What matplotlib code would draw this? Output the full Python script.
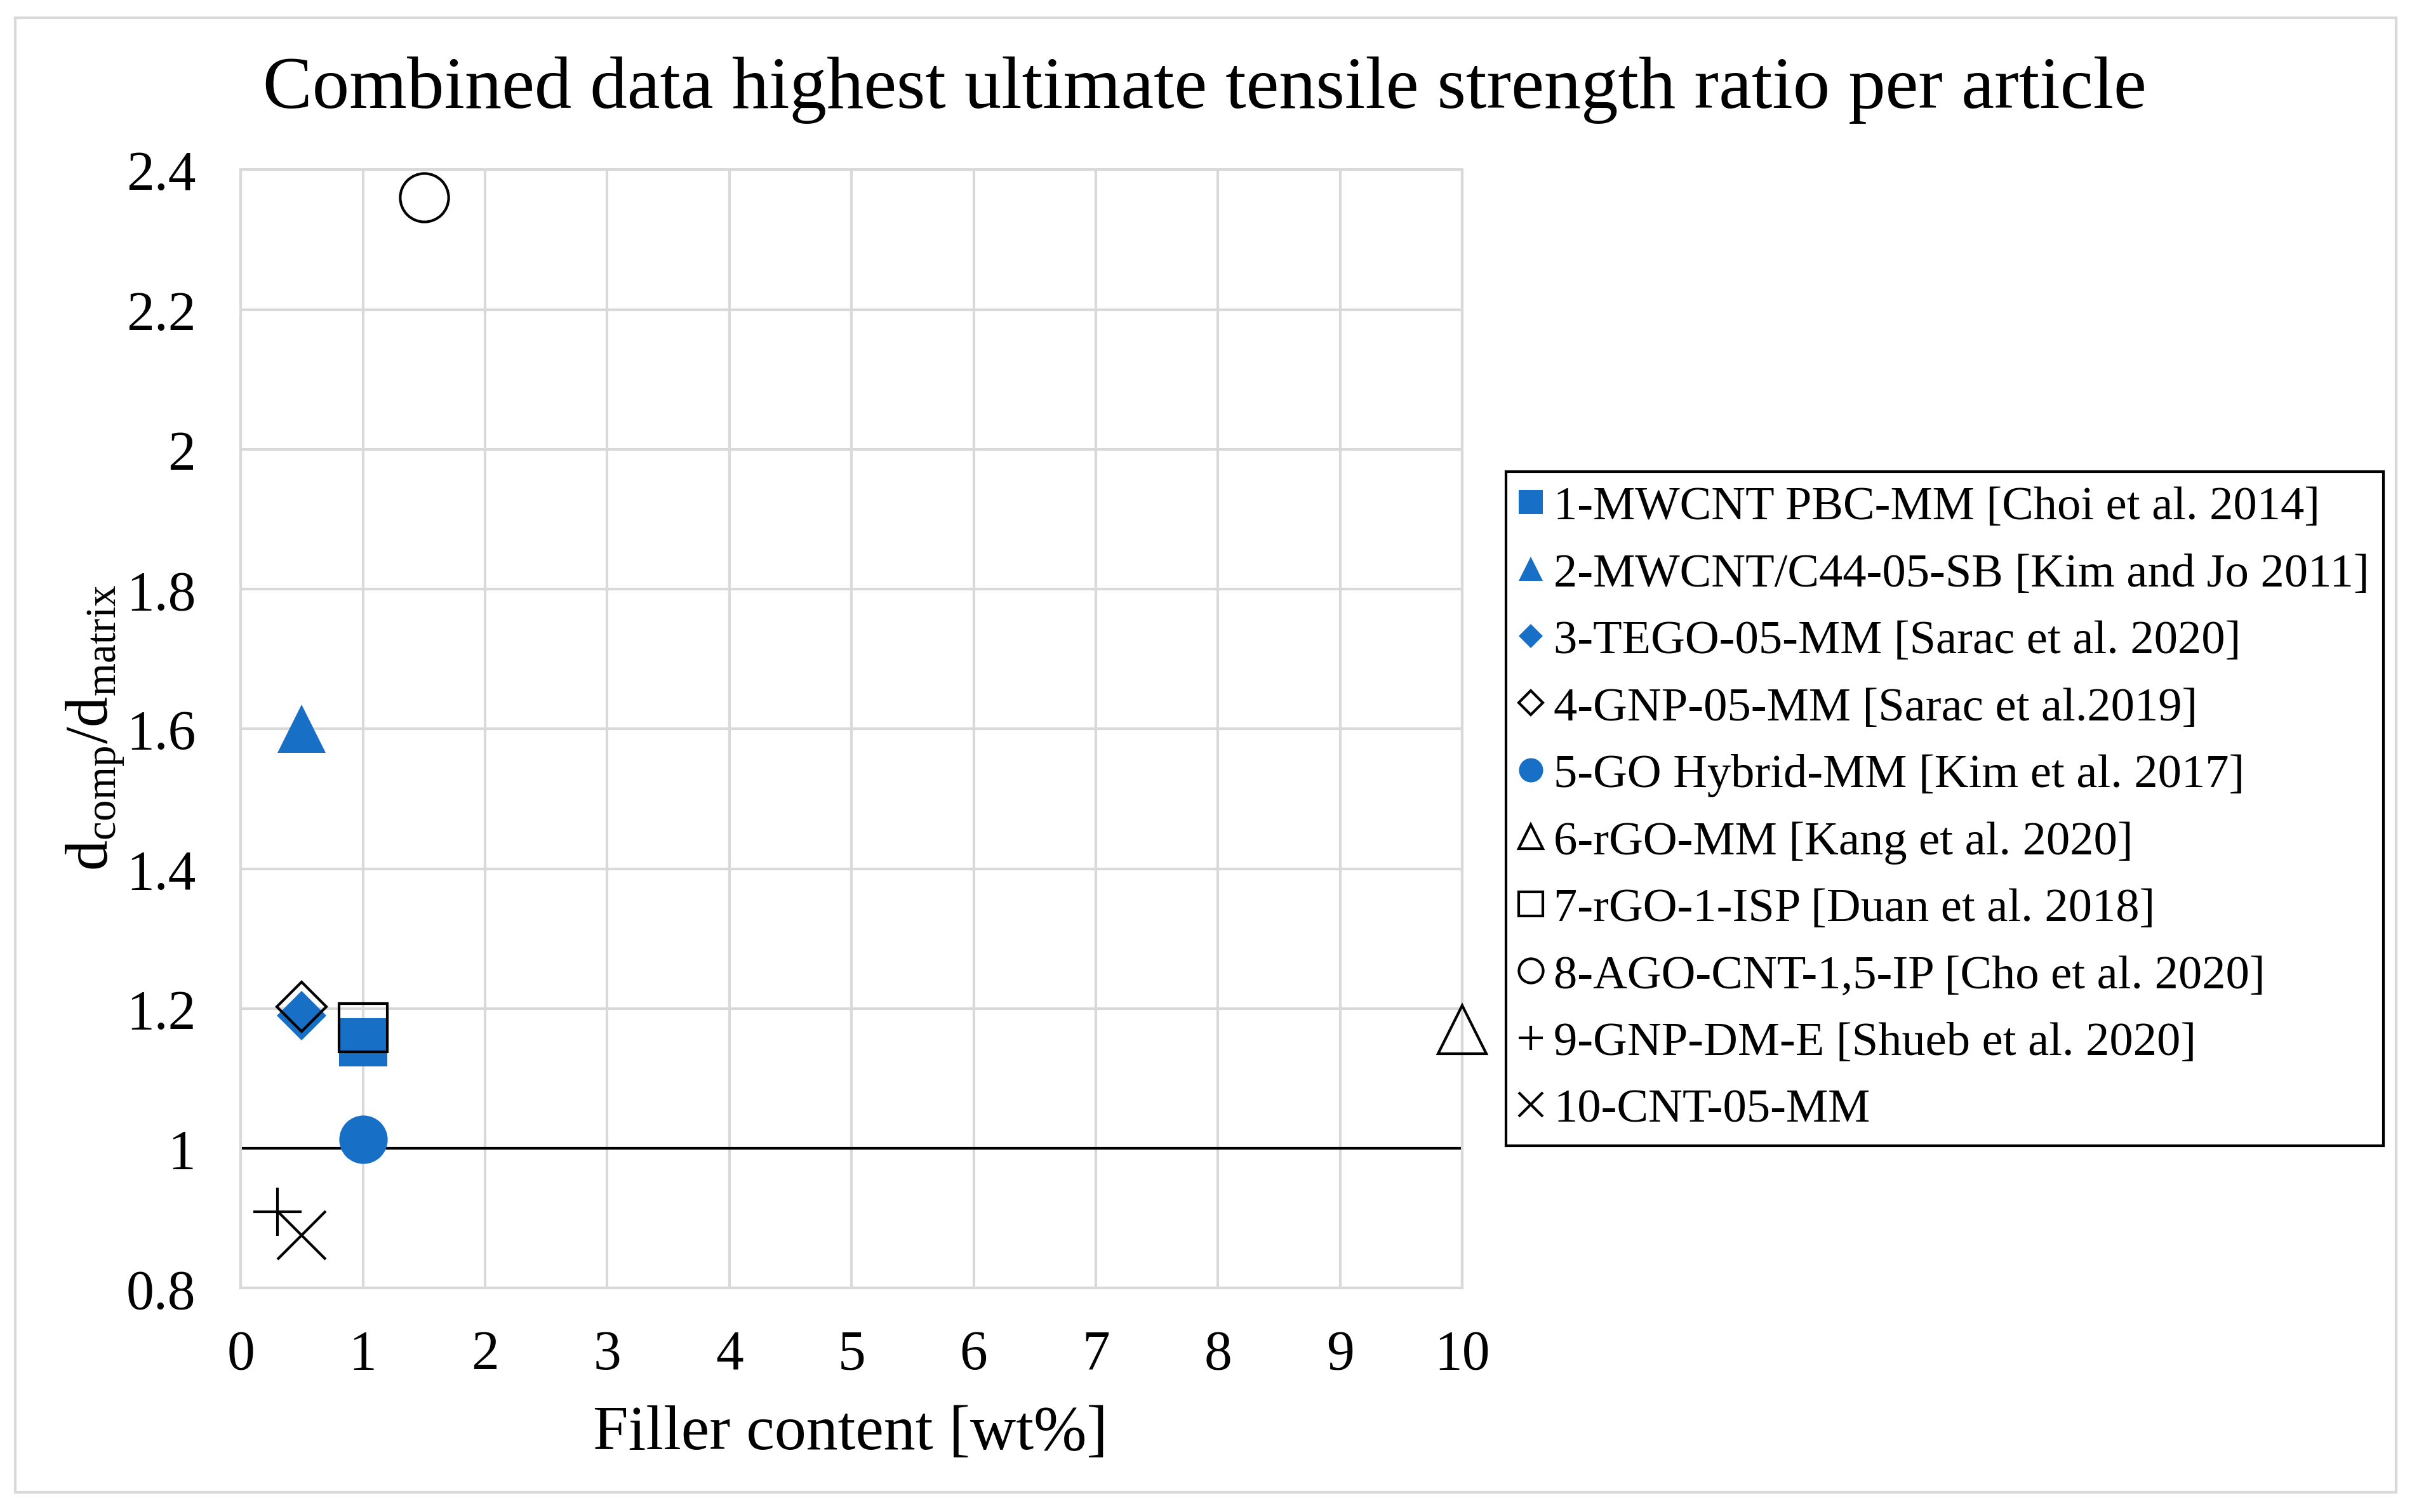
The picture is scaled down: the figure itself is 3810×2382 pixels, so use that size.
import matplotlib
matplotlib.use('Agg')
import matplotlib.pyplot as plt
from matplotlib.patches import Rectangle

plt.rcParams['font.family'] = ['Liberation Serif', 'DejaVu Serif']
plt.rcParams['mathtext.fontset'] = 'custom'
plt.rcParams['mathtext.rm'] = 'Liberation Serif'
plt.rcParams['mathtext.it'] = 'Liberation Serif:italic'

# data
labels = ['1-MWCNT PBC-MM [Choi et al. 2014]',
          '2-MWCNT/C44-05-SB [Kim and Jo 2011]',
          '3-TEGO-05-MM [Sarac et al. 2020]',
          '4-GNP-05-MM [Sarac et al.2019]',
          '5-GO Hybrid-MM [Kim et al. 2017]',
          '6-rGO-MM [Kang et al. 2020]',
          '7-rGO-1-ISP [Duan et al. 2018]',
          '8-AGO-CNT-1,5-IP [Cho et al. 2020]',
          '9-GNP-DM-E [Shueb et al. 2020]',
          '10-CNT-05-MM']
filler = [1.0, 0.5, 0.5, 0.5, 1.0, 10.0, 1.0, 1.5, 0.3, 0.5]
ratio = [1.152, 1.60, 1.19, 1.203, 1.013, 1.17, 1.173, 2.36, 0.909, 0.876]
markers = ['s', '^', 'D', 'D', 'o', '^', 's', 'o', '+', 'x']
filled = [True, True, True, False, True, False, False, False, False, False]

blue = '#1870C6'
grid_col = '#D9D9D9'

fig = plt.figure(figsize=(12.7, 7.9433), dpi=300)
ax = fig.add_axes([0.0995, 0.148, 0.505, 0.7394])

for i in range(len(labels)):
    m = markers[i]
    ms = 13.1 if m == 'D' else 18.3
    if filled[i]:
        ax.plot(filler[i], ratio[i], linestyle='none', marker=m, ms=ms,
                mfc=blue, mec=blue, mew=0, label=labels[i], clip_on=False, zorder=3 + i)
    else:
        ax.plot(filler[i], ratio[i], linestyle='none', marker=m, ms=ms,
                mfc='none', mec='black', mew=1.0, label=labels[i], clip_on=False, zorder=3 + i)

ax.axhline(1.0, color='black', lw=1.0, zorder=2)

ax.set_xlim(0, 10)
ax.set_ylim(0.8, 2.4)
ax.set_xticks(range(0, 11))
ax.set_yticks([0.8, 1, 1.2, 1.4, 1.6, 1.8, 2, 2.2, 2.4])
ax.set_yticklabels(['0.8', '1', '1.2', '1.4', '1.6', '1.8', '2', '2.2', '2.4'])
ax.grid(True, color=grid_col, lw=1.0, zorder=0)
ax.set_axisbelow(True)
for s in ax.spines.values():
    s.set_color(grid_col)
    s.set_linewidth(1.0)
ax.tick_params(axis='both', length=0, labelsize=21, colors='black')
ax.tick_params(axis='x', pad=15.5)
ax.tick_params(axis='y', pad=17)

fig.text(0.3515, 0.042, 'Filler content [wt%]', fontsize=24, ha='center', va='baseline')
fig.text(0.0396, 0.519, r'$\mathrm{d_{comp}/d_{matrix}}$', fontsize=23,
         rotation=90, ha='center', va='center')

fig.text(0.498, 0.9287, 'Combined data highest ultimate tensile strength ratio per article',
         fontsize=28, ha='center', va='baseline')

leg = ax.legend(loc='upper left', bbox_to_anchor=(0.6226, 0.688), bbox_transform=fig.transFigure,
                fontsize=17.9, markerscale=0.5, frameon=True, fancybox=False,
                edgecolor='black', framealpha=1, handlelength=0.45, handletextpad=0.26,
                labelspacing=0.5, borderpad=0.3, borderaxespad=0)
leg.get_frame().set_linewidth(1.0)

fig.patches.append(Rectangle((0.0063, 0.013), 0.9843, 0.975, transform=fig.transFigure,
                             fill=False, edgecolor=grid_col, lw=1.0))

fig.savefig('out.png', dpi=300, facecolor='white')
